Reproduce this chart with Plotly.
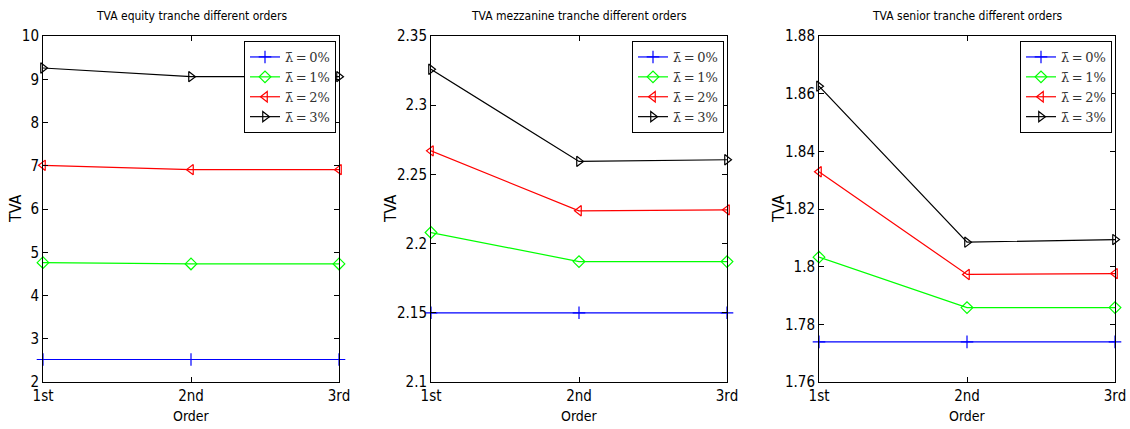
import plotly.graph_objects as go

orders = ["1st", "2nd", "3rd"]
labels = ["λ̄\u2009=\u20090%", "λ̄\u2009=\u20091%", "λ̄\u2009=\u20092%", "λ̄\u2009=\u20093%"]

equity_0 = [2.52, 2.52, 2.52]
equity_1 = [4.76, 4.73, 4.73]
equity_2 = [7.01, 6.91, 6.91]
equity_3 = [9.26, 9.06, 9.06]

mezz_0 = [2.150, 2.150, 2.150]
mezz_1 = [2.208, 2.187, 2.187]
mezz_2 = [2.267, 2.2237, 2.2244]
mezz_3 = [2.326, 2.2594, 2.2606]

senior_0 = [1.7739, 1.7739, 1.7739]
senior_1 = [1.8033, 1.7858, 1.7858]
senior_2 = [1.8329, 1.7973, 1.7976]
senior_3 = [1.8626, 1.8085, 1.8094]

titles = ["TVA equity tranche different orders",
          "TVA mezzanine tranche different orders",
          "TVA senior tranche different orders"]

colors = ["#0000ff", "#00ff00", "#ff0000", "#000000"]
symbols = ["cross-thin-open", "diamond-open", "triangle-left-open", "triangle-right-open"]

panels = [
    dict(series=[equity_0, equity_1, equity_2, equity_3], rng=[2, 10],
         ticks=[2, 3, 4, 5, 6, 7, 8, 9, 10], ticktext=None),
    dict(series=[mezz_0, mezz_1, mezz_2, mezz_3], rng=[2.1, 2.35],
         ticks=[2.1, 2.15, 2.2, 2.25, 2.3, 2.35],
         ticktext=["2.1", "2.15", "2.2", "2.25", "2.3", "2.35"]),
    dict(series=[senior_0, senior_1, senior_2, senior_3], rng=[1.76, 1.88],
         ticks=[1.76, 1.78, 1.8, 1.82, 1.84, 1.86, 1.88],
         ticktext=["1.76", "1.78", "1.8", "1.82", "1.84", "1.86", "1.88"]),
]

W, H = 1130, 429
xpix = [(43, 339), (431, 727), (819, 1115)]
ylabel_x = [15, 390, 778]
ytop, ybot = 36, 382

sans = "DejaVu Sans Condensed, Liberation Sans Narrow, Arial Narrow, Liberation Sans, Arial, sans-serif"
serif = "DejaVu Serif, Liberation Serif, serif"

fig = go.Figure()
layout = dict(width=W, height=H, margin=dict(l=0, r=0, t=0, b=0, autoexpand=False),
              paper_bgcolor="white", plot_bgcolor="white", showlegend=True,
              font=dict(family=sans, size=14, color="black"))
annotations = []

for i, p in enumerate(panels):
    k = "" if i == 0 else str(i + 1)
    xa = "x" + k
    ya = "y" + k
    lg = "legend" + k
    for j, s in enumerate(p["series"]):
        fig.add_trace(go.Scatter(
            x=[0, 1, 2], y=s, mode="lines+markers", name=labels[j],
            xaxis=xa, yaxis=ya, legend=lg,
            line=dict(color=colors[j], width=1.2),
            marker=dict(symbol=symbols[j], size=9, color=colors[j],
                        line=dict(color=colors[j], width=1.2)),
            cliponaxis=False))
    x0, x1 = xpix[i]
    dom_x = [x0 / W, x1 / W]
    dom_y = [1 - ybot / H, 1 - ytop / H]
    layout["xaxis" + k] = dict(
        domain=dom_x, range=[0, 2], tickmode="array", tickvals=[0, 1, 2],
        ticktext=orders, ticks="inside", ticklen=5, tickcolor="black",
        showline=True, linecolor="black", linewidth=1, mirror="ticks",
        showgrid=False, zeroline=False, anchor=ya, automargin=False,
        tickfont=dict(family=sans, size=15))
    yd = dict(
        domain=dom_y, range=p["rng"], tickmode="array", tickvals=p["ticks"],
        ticks="inside", ticklen=5, tickcolor="black",
        showline=True, linecolor="black", linewidth=1, mirror="ticks",
        showgrid=False, zeroline=False, anchor=xa, automargin=False,
        tickfont=dict(family=sans, size=15))
    if p["ticktext"]:
        yd["ticktext"] = p["ticktext"]
    layout["yaxis" + k] = yd
    layout[lg] = dict(
        x=(x1 - 3) / W, y=1 - 41 / H, xanchor="right", yanchor="top",
        xref="paper", yref="paper",
        bgcolor="white", bordercolor="black", borderwidth=1,
        font=dict(family=serif, size=13, color="#333333"),
        tracegroupgap=0, itemwidth=30)
    annotations.append(dict(
        text=titles[i], x=(x0 + x1) / 2 / W, y=1 - 16 / H,
        xref="paper", yref="paper",
        xanchor="center", yanchor="middle", showarrow=False,
        font=dict(family=sans, size=12)))
    annotations.append(dict(
        text="Order", x=(x0 + x1) / 2 / W, y=1 - 416 / H,
        xref="paper", yref="paper",
        xanchor="center", yanchor="middle", showarrow=False,
        font=dict(family=sans, size=14)))
    annotations.append(dict(
        text="TVA", x=ylabel_x[i] / W, y=1 - 209 / H, textangle=-90,
        xref="paper", yref="paper",
        xanchor="center", yanchor="middle", showarrow=False,
        font=dict(family=sans, size=16)))

layout["annotations"] = annotations
fig.update_layout(**layout)
fig.write_html("out.html", config={"displayModeBar": False},
               post_script="document.body.style.margin='0';document.body.style.overflow='hidden';")
